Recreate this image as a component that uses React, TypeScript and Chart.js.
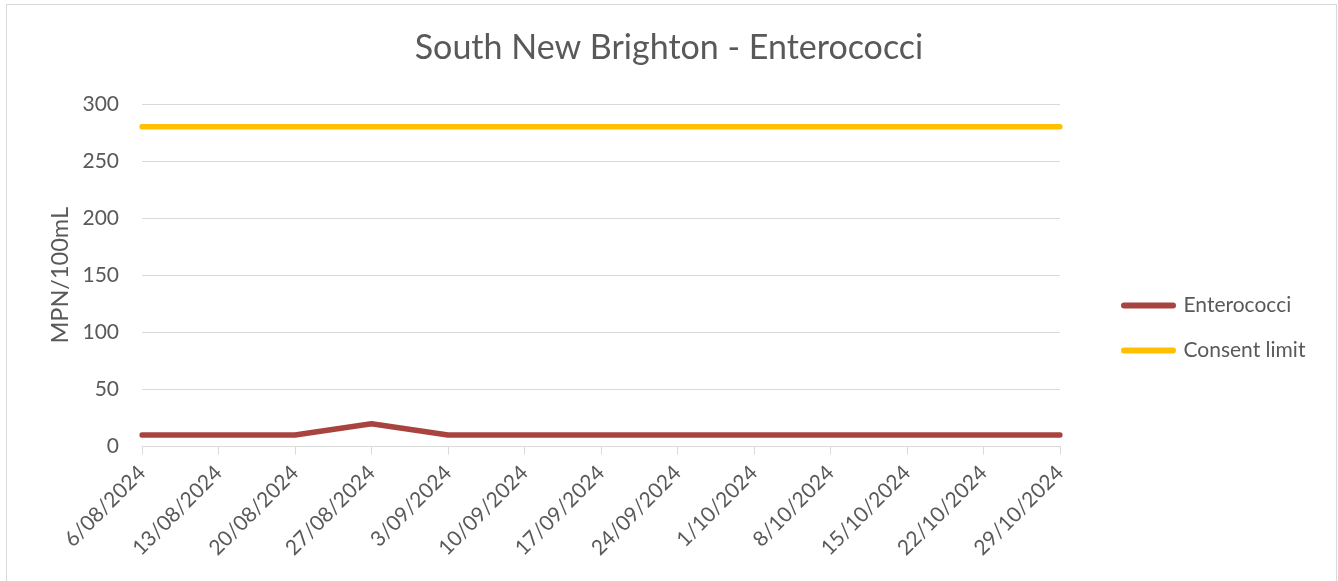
import React, { useEffect, useRef } from 'react';
import { Chart, registerables } from 'chart.js';

Chart.register(...registerables);

const chartTitle = 'South New Brighton - Enterococci';
const yAxisTitle = 'MPN/100mL';
const categories = [
  '6/08/2024', '13/08/2024', '20/08/2024', '27/08/2024', '3/09/2024', '10/09/2024',
  '17/09/2024', '24/09/2024', '1/10/2024', '8/10/2024', '15/10/2024', '22/10/2024', '29/10/2024',
];
const enterococci = [10, 10, 10, 20, 10, 10, 10, 10, 10, 10, 10, 10, 10];
const consentLimit = [280, 280, 280, 280, 280, 280, 280, 280, 280, 280, 280, 280, 280];
const yMin = 0;
const yMax = 300;
const yStep = 50;

const FONT = 'Lato, "Open Sans", sans-serif';
const TEXT = '#595959';
const GRID = '#d9d9d9';
const RED = '#A9433F';
const GOLD = '#FFC000';

const W = 1338;
const H = 581;

export default function App() {
  const ref = useRef<HTMLCanvasElement>(null);

  useEffect(() => {
    if (!ref.current) return;
    const legendFix = {
      id: 'legendFix',
      afterInit(chart: any) {
        const lg = chart.legend;
        if (!lg) return;
        const orig = lg.fit.bind(lg);
        lg.fit = function () {
          orig();
          this.width = W - 1060;
        };
      },
      afterLayout(chart: any) {
        const lg = chart.legend;
        if (!lg) return;
        lg.left += 40;
        lg.top += 37.6;
        lg.bottom += 37.6;
      },
    };

    const chart = new Chart(ref.current, {
      type: 'line',
      data: {
        labels: categories,
        datasets: [
          {
            label: 'Enterococci',
            data: enterococci,
            borderColor: RED,
            backgroundColor: RED,
            borderWidth: 5.5,
            borderCapStyle: 'round',
            borderJoinStyle: 'round',
            pointRadius: 0,
            tension: 0,
          },
          {
            label: 'Consent limit',
            data: consentLimit,
            borderColor: GOLD,
            backgroundColor: GOLD,
            borderWidth: 5.5,
            borderCapStyle: 'round',
            borderJoinStyle: 'round',
            pointRadius: 0,
            tension: 0,
          },
        ],
      },
      plugins: [legendFix],
      options: {
        responsive: false,
        animation: false,
        devicePixelRatio: 1,
        layout: { padding: { left: 0, right: 0, top: 0, bottom: 0 } },
        plugins: {
          title: {
            display: true,
            text: chartTitle,
            color: TEXT,
            font: { family: FONT, size: 34, weight: 'normal', lineHeight: 1.2 },
            padding: { top: 27.6, bottom: 35.6 },
          },
          legend: {
            display: true,
            position: 'right',
            align: 'center',
            labels: {
              color: TEXT,
              font: { family: FONT, size: 21 },
              usePointStyle: true,
              pointStyleWidth: 49,
              boxHeight: 6,
              padding: 24,
              generateLabels(chart: any) {
                return chart.data.datasets.map((ds: any, i: number) => ({
                  text: ds.label,
                  fillStyle: ds.borderColor,
                  strokeStyle: ds.borderColor,
                  lineWidth: 6,
                  lineCap: 'round',
                  pointStyle: 'line',
                  fontColor: TEXT,
                  hidden: false,
                  datasetIndex: i,
                }));
              },
            },
          },
          tooltip: { enabled: false },
        },
        scales: {
          x: {
            type: 'category',
            offset: false,
            afterFit(scale: any) {
              scale.height = H - 446.5;
            },
            grid: {
              display: true,
              drawOnChartArea: false,
              drawTicks: true,
              tickLength: 8,
              color: GRID,
              lineWidth: 1,
            },
            border: { display: true, color: GRID, width: 1 },
            ticks: {
              color: TEXT,
              font: { family: FONT, size: 21 },
              minRotation: 45,
              maxRotation: 45,
              autoSkip: false,
              padding: 6,
            },
          },
          y: {
            min: yMin,
            max: yMax,
            afterFit(scale: any) {
              scale.width = 142;
            },
            grid: { color: GRID, lineWidth: 1, drawTicks: false },
            border: { display: false },
            ticks: {
              stepSize: yStep,
              color: TEXT,
              font: { family: FONT, size: 21 },
              padding: 23,
            },
            title: {
              display: true,
              text: yAxisTitle,
              color: TEXT,
              font: { family: FONT, size: 23.5 },
              padding: { top: 46, bottom: 0 },
            },
          },
        },
      },
    } as any);
    return () => chart.destroy();
  }, []);

  return (
    <div style={{ position: 'fixed', left: 0, top: 0, width: W, height: H, background: '#fff' }}>
      <canvas ref={ref} width={W} height={H} style={{ position: 'absolute', left: 0, top: 0 }} />
      <div
        style={{
          position: 'absolute',
          left: 6,
          top: 4,
          width: 1331,
          height: 620,
          border: '1px solid #d9d9d9',
          boxSizing: 'border-box',
          pointerEvents: 'none',
        }}
      />
    </div>
  );
}
